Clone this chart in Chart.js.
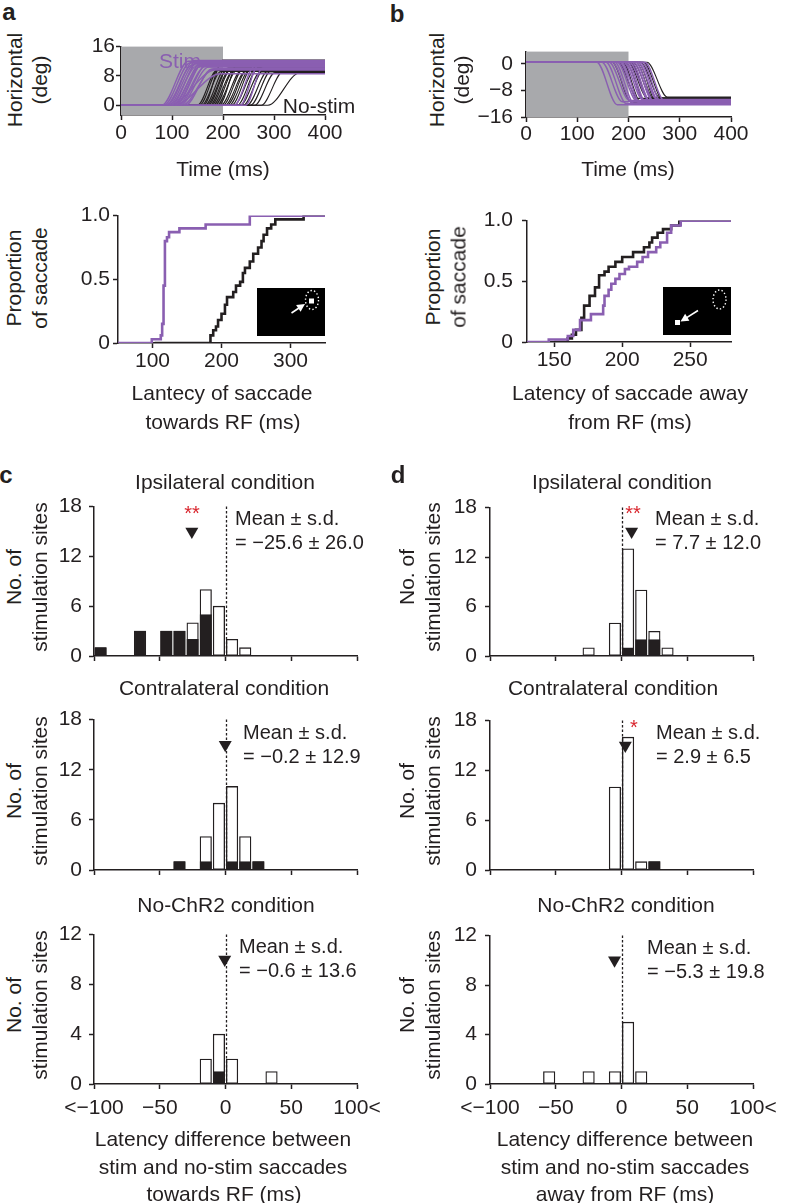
<!DOCTYPE html>
<html>
<head>
<meta charset="utf-8">
<script src="https://cdn.jsdelivr.net/npm/chart.js@4.4.0/dist/chart.umd.min.js"></script>
<style>
  body { margin: 0; background: #fff; }
  #fig { position: relative; width: 788px; height: 1203px; overflow: hidden; background: #fff;
         font-family: "Liberation Sans", Arial, sans-serif; color: #231f20; }
  #fig canvas { position: absolute; }
</style>
</head>
<body>
<div id="fig"></div>
<script>
// ---- panel a / b (top): eye position traces, one entry per saccade ----
// onset (ms), end of saccade (ms), final horizontal position (deg)
const aStimOnset = [80, 84, 88, 90, 93, 95, 98, 100, 102, 105, 107, 110, 113, 116, 96, 104, 120, 126, 222, 234, 244];
const aStimEnd   = [132, 136, 140, 144, 146, 150, 152, 155, 158, 160, 164, 166, 170, 172, 185, 195, 182, 178, 262, 270, 278];
const aStimAmp   = [12, 11.6, 11, 12.2, 11.4, 10.8, 12, 10.5, 11.6, 11.2, 12, 10.6, 11.3, 10.4, 9.6, 8.6, 10, 9.8, 10.6, 11, 10.2];
const aNoStimOnset = [150, 154, 158, 162, 165, 168, 171, 174, 177, 180, 184, 188, 192, 196, 200, 204, 208, 212, 217, 222, 228, 234, 240, 247, 254, 262, 275, 288];
const aNoStimEnd   = [188, 192, 196, 200, 204, 207, 210, 213, 216, 220, 224, 228, 232, 236, 240, 244, 248, 252, 257, 262, 268, 274, 280, 288, 295, 302, 318, 350];
const aNoStimAmp   = [9.5, 10, 9.2, 12.3, 9.8, 9.4, 10.2, 9.6, 9.9, 9.3, 10.1, 9.7, 12.2, 9.5, 10, 9.2, 9.8, 9.6, 10.3, 9.4, 9.9, 9.1, 9.7, 9.3, 9.5, 8.9, 9.2, 8.8];

const bStimOnset = [138, 148, 156, 162, 168, 173, 178, 182, 186, 190, 194, 198, 202, 206, 210, 214, 218, 222, 227, 232];
const bStimEnd   = [178, 188, 196, 202, 208, 212, 216, 220, 224, 228, 232, 236, 240, 244, 248, 252, 256, 260, 265, 270];
const bStimAmp   = [-12.3, -11.4, -12, -11, -11.8, -12.1, -11.2, -11.6, -12, -10.8, -11.5, -12.2, -11, -11.7, -11.3, -12, -10.7, -11.4, -11.8, -11.1];
const bNoStimOnset = [168, 180, 188, 194, 199, 204, 209, 214, 218, 223, 229, 236];
const bNoStimEnd   = [206, 218, 226, 232, 237, 242, 247, 252, 257, 262, 268, 276];
const bNoStimAmp   = [-11.6, -10.4, -12.1, -11, -10.2, -11.8, -10.6, -11.3, -12.2, -10.3, -11, -10];
const bBaseline = 0.5;

const traceTime = [0, 400];
const stimWindow = [0, 200];
const traceTicksX = [0, 100, 200, 300, 400];
const aTraceTicksY = [0, 8, 16];
const bTraceTicksY = [-16, -8, 0];

// ---- panel a / b (bottom): cumulative latency distributions ----
const aCdfStimX   = [50, 99, 112, 114, 116, 118, 121, 124, 139, 177, 241, 350];
const aCdfStimY   = [0, 0.03, 0.06, 0.15, 0.45, 0.8, 0.83, 0.87, 0.9, 0.93, 1, 1];
const aCdfNoStimX = [103, 184, 188, 192, 195, 200, 205, 208, 217, 221, 227, 231, 234, 241, 246, 253, 258, 261, 266, 272, 278, 319, 350];
const aCdfNoStimY = [0, 0.06, 0.1, 0.13, 0.18, 0.23, 0.3, 0.36, 0.4, 0.45, 0.48, 0.55, 0.59, 0.64, 0.7, 0.75, 0.8, 0.85, 0.9, 0.93, 0.97, 1, 1];
const bCdfStimX   = [130, 146, 160, 164, 169, 177, 186, 187, 190, 192, 195, 198, 202, 205, 211, 215, 219, 225, 228, 233, 236, 243, 280];
const bCdfStimY   = [0, 0.02, 0.05, 0.1, 0.18, 0.23, 0.3, 0.38, 0.43, 0.48, 0.52, 0.56, 0.6, 0.62, 0.66, 0.7, 0.74, 0.78, 0.82, 0.9, 0.96, 1, 1];
const bCdfNoStimX = [150, 160, 163, 166, 170, 172, 176, 180, 183, 187, 190, 195, 200, 208, 216, 220, 222, 226, 230, 236, 242, 280];
const bCdfNoStimY = [0, 0.03, 0.06, 0.1, 0.2, 0.3, 0.38, 0.45, 0.55, 0.58, 0.62, 0.66, 0.7, 0.74, 0.78, 0.82, 0.86, 0.9, 0.93, 0.96, 1, 1];
const aCdfTicksX = [100, 200, 300];
const bCdfTicksX = [150, 200, 250];
const cdfTicksY = [0, 0.5, 1];

// ---- panel c / d: histograms of latency difference (10 ms bins) ----
const binCenters = [-95, -85, -75, -65, -55, -45, -35, -25, -15, -5, 5, 15, 25, 35, 45, 55, 65, 75, 85, 95];
const cIpsiTotal    = [1, 0, 0, 3, 0, 3, 3, 4, 8, 6, 2, 1, 0, 0, 0, 0, 0, 0, 0, 0];
const cIpsiFilled   = [1, 0, 0, 3, 0, 3, 3, 2, 5, 0, 0, 0, 0, 0, 0, 0, 0, 0, 0, 0];
const cContraTotal  = [0, 0, 0, 0, 0, 0, 1, 0, 4, 8, 10, 4, 1, 0, 0, 0, 0, 0, 0, 0];
const cContraFilled = [0, 0, 0, 0, 0, 0, 1, 0, 1, 0, 1, 1, 1, 0, 0, 0, 0, 0, 0, 0];
const cNoChR2Total  = [0, 0, 0, 0, 0, 0, 0, 0, 2, 4, 2, 0, 0, 1, 0, 0, 0, 0, 0, 0];
const cNoChR2Filled = [0, 0, 0, 0, 0, 0, 0, 0, 0, 1, 0, 0, 0, 0, 0, 0, 0, 0, 0, 0];
const dIpsiTotal    = [0, 0, 0, 0, 0, 0, 0, 1, 0, 4, 13, 8, 3, 1, 0, 0, 0, 0, 0, 0];
const dIpsiFilled   = [0, 0, 0, 0, 0, 0, 0, 0, 0, 0, 1, 2, 2, 0, 0, 0, 0, 0, 0, 0];
const dContraTotal  = [0, 0, 0, 0, 0, 0, 0, 0, 0, 10, 16, 1, 1, 0, 0, 0, 0, 0, 0, 0];
const dContraFilled = [0, 0, 0, 0, 0, 0, 0, 0, 0, 0, 0, 0, 1, 0, 0, 0, 0, 0, 0, 0];
const dNoChR2Total  = [0, 0, 0, 0, 1, 0, 0, 1, 0, 1, 5, 1, 0, 0, 0, 0, 0, 0, 0, 0];
const dNoChR2Filled = [0, 0, 0, 0, 0, 0, 0, 0, 0, 0, 0, 0, 0, 0, 0, 0, 0, 0, 0, 0];
const histTickVals = [-100, -50, 0, 50, 100];
const histTickLabels = ['<\u2212100', '\u221250', '0', '50', '100<'];
// mean (ms), s.d. (ms), height of the mean marker (sites)
const cMeans = [-25.6, -0.2, -0.6];
const cSDs   = [26.0, 12.9, 13.6];
const dMeans = [7.7, 2.9, -5.3];
const dSDs   = [12.0, 6.5, 19.8];
const cMarkY = [15, 15, 10];
const dMarkY = [15.1, 15, 10];

// ---- styling ----
const INK = '#231f20';
const PURPLE = '#8a5fb1';
const SHADE = '#a8a9ac';
const RED = '#d9262e';

Chart.defaults.font.family = '"Liberation Sans", Arial, sans-serif';
Chart.defaults.font.size = 21;
Chart.defaults.color = INK;

const fig = document.getElementById('fig');
const PAD = {l: 64, r: 40, t: 12, b: 44};

function mount(plot) {
  const c = document.createElement('canvas');
  c.width = plot.w + PAD.l + PAD.r;
  c.height = plot.h + PAD.t + PAD.b;
  c.style.left = (plot.x - PAD.l) + 'px';
  c.style.top = (plot.y - PAD.t) + 'px';
  c.style.width = c.width + 'px';
  c.style.height = c.height + 'px';
  fig.appendChild(c);
  return c;
}

function scale(min, max, vals, fmt, pad, showLabels) {
  return {
    type: 'linear', min: min, max: max, offset: false, z: 1,
    afterBuildTicks: s => { s.ticks = vals.map(v => ({value: v})); },
    afterFit: s => { if (s.isHorizontal()) s.height = PAD.b; else s.width = PAD.l; },
    ticks: {display: showLabels !== false, padding: pad, autoSkip: false, maxRotation: 0, callback: v => fmt(v)},
    grid: {drawOnChartArea: false, drawTicks: true, tickLength: 5, tickColor: INK, tickWidth: 1.5, offset: false},
    border: {display: true, color: INK, width: 1.5}
  };
}

function draw(plot, type, datasets, xs, ys, plugins) {
  return new Chart(mount(plot), {
    type: type,
    data: {datasets: datasets},
    options: {
      responsive: false, animation: false, devicePixelRatio: 1,
      layout: {autoPadding: false, padding: {left: 0, right: PAD.r, top: PAD.t, bottom: 0}},
      plugins: {legend: {display: false}, tooltip: {enabled: false}},
      scales: {x: xs, y: ys}
    },
    plugins: plugins || []
  });
}

const num = v => String(v).replace('-', '\u2212');
const frac = v => v === 0 ? '0' : v.toFixed(1);
const histLabel = v => histTickLabels[histTickVals.indexOf(v)];

function label(str, x, y, o) {
  o = o || {};
  const d = document.createElement('div');
  d.textContent = str;
  const tf = (o.left ? 'translate(0,-50%)' : 'translate(-50%,-50%)') + (o.rot ? ' rotate(-90deg)' : '');
  d.style.cssText = 'position:absolute;white-space:nowrap;line-height:1;left:' + x + 'px;top:' + y +
    'px;font-size:' + (o.size || 21) + 'px;font-weight:' + (o.bold ? 700 : 400) +
    ';color:' + (o.color || INK) + ';transform:' + tf + ';';
  fig.appendChild(d);
}

// ---- top row: traces ----
function traceSets(onset, end, amp, base, color, width) {
  return onset.map((t0, i) => ({
    type: 'line',
    data: [{x: traceTime[0], y: base}, {x: t0, y: base}, {x: end[i], y: amp[i]}, {x: traceTime[1], y: amp[i]}],
    borderColor: color, borderWidth: width, pointRadius: 0, fill: false,
    cubicInterpolationMode: 'monotone'
  }));
}

const shadePlugin = {
  id: 'shade',
  beforeDatasetsDraw(chart) {
    const {ctx, chartArea: a, scales: {x}} = chart;
    const x0 = x.getPixelForValue(stimWindow[0]), x1 = x.getPixelForValue(stimWindow[1]);
    ctx.save();
    ctx.fillStyle = SHADE;
    ctx.fillRect(x0, a.top, x1 - x0, a.bottom - a.top);
    ctx.restore();
  }
};

draw({x: 121, y: 45, w: 204, h: 70}, 'line',
  traceSets(aStimOnset, aStimEnd, aStimAmp, 0, PURPLE, 1.4)
    .concat(traceSets(aNoStimOnset, aNoStimEnd, aNoStimAmp, 0, INK, 1.1)),
  scale(0, 400, traceTicksX, num, 1),
  scale(-2.67, 16, aTraceTicksY, num, 1),
  [shadePlugin]);

draw({x: 526, y: 43, w: 205, h: 74}, 'line',
  traceSets(bStimOnset, bStimEnd, bStimAmp, bBaseline, PURPLE, 1.4)
    .concat(traceSets(bNoStimOnset, bNoStimEnd, bNoStimAmp, bBaseline, INK, 1.1)),
  scale(0, 400, traceTicksX, num, 0),
  scale(-16, 3.7, bTraceTicksY, num, 8),
  [shadePlugin]);

// ---- middle row: cumulative distributions ----
function cdfSet(xs, ys, color) {
  return {
    data: xs.map((x, i) => ({x: x, y: ys[i]})),
    borderColor: color, borderWidth: 2.6, pointRadius: 0, fill: false, stepped: true
  };
}

function arrow(ctx, x0, y0, x1, y1) {
  const ang = Math.atan2(y1 - y0, x1 - x0);
  ctx.beginPath();
  ctx.moveTo(x0, y0);
  ctx.lineTo(x1 - 5 * Math.cos(ang), y1 - 5 * Math.sin(ang));
  ctx.stroke();
  ctx.beginPath();
  ctx.moveTo(x1, y1);
  ctx.lineTo(x1 - 8 * Math.cos(ang) + 4 * Math.sin(ang), y1 - 8 * Math.sin(ang) - 4 * Math.cos(ang));
  ctx.lineTo(x1 - 8 * Math.cos(ang) - 4 * Math.sin(ang), y1 - 8 * Math.sin(ang) + 4 * Math.cos(ang));
  ctx.closePath();
  ctx.fill();
}

function insetPlugin(scene) {
  return {
    id: 'inset',
    afterDatasetsDraw(chart) {
      const {ctx, chartArea: a} = chart;
      const w = 68, h = 48;
      ctx.save();
      ctx.translate(a.right - w, a.bottom - 7 - h);
      ctx.fillStyle = '#000';
      ctx.fillRect(0, 0, w, h);
      ctx.strokeStyle = '#fff';
      ctx.fillStyle = '#fff';
      ctx.lineWidth = 1.4;
      ctx.setLineDash([1.4, 2.2]);
      ctx.beginPath();
      ctx.ellipse(scene.rf[0], scene.rf[1], 6.5, 9.5, 0, 0, Math.PI * 2);
      ctx.stroke();
      ctx.setLineDash([]);
      ctx.fillRect(scene.sq[0] - 2.5, scene.sq[1] - 2.5, 5, 5);
      ctx.lineWidth = 1.6;
      arrow(ctx, scene.arrow[0], scene.arrow[1], scene.arrow[2], scene.arrow[3]);
      ctx.restore();
    }
  };
}

draw({x: 118, y: 212, w: 207, h: 131}, 'line',
  [cdfSet(aCdfStimX, aCdfStimY, PURPLE), cdfSet(aCdfNoStimX, aCdfNoStimY, INK)],
  scale(50, 350, aCdfTicksX, num, 1),
  scale(0, 1, cdfTicksY, frac, 3),
  [insetPlugin({rf: [55, 12], sq: [54.5, 13], arrow: [34.5, 25, 48, 16]})]);

draw({x: 527, y: 211, w: 204, h: 131}, 'line',
  [cdfSet(bCdfStimX, bCdfStimY, PURPLE), cdfSet(bCdfNoStimX, bCdfNoStimY, INK)],
  scale(130, 280, bCdfTicksX, num, 1),
  scale(0, 1, cdfTicksY, frac, 9),
  [insetPlugin({rf: [56.5, 12.5], sq: [14.5, 35.5], arrow: [35, 23.5, 17.5, 34.5]})]);

// ---- bottom: histograms ----
const zeroLine = {
  id: 'zeroLine',
  afterDatasetsDraw(chart) {
    const {ctx, chartArea: a, scales: {x}} = chart;
    const px = Math.round(x.getPixelForValue(0)) + 0.5;
    ctx.save();
    ctx.strokeStyle = INK;
    ctx.lineWidth = 1.3;
    ctx.setLineDash([2.5, 2]);
    ctx.beginPath();
    ctx.moveTo(px, a.top);
    ctx.lineTo(px, a.bottom);
    ctx.stroke();
    ctx.restore();
  }
};

function barData(counts) {
  const out = [];
  binCenters.forEach((c, i) => { if (counts[i] > 0) out.push({x: c, y: counts[i]}); });
  return out;
}

function histSets(total, filled, mean, markY) {
  return [
    {type: 'scatter', data: [{x: mean, y: markY}], pointStyle: 'triangle', rotation: 180,
     radius: 7.5, backgroundColor: INK, borderColor: INK, borderWidth: 0},
    {data: barData(filled), backgroundColor: INK, borderColor: INK, borderWidth: 1.2,
     barThickness: 11.5, grouped: false, borderSkipped: false},
    {data: barData(total), backgroundColor: '#fff', borderColor: INK, borderWidth: 1.3,
     barThickness: 11.5, grouped: false, borderSkipped: false}
  ];
}

function hist(plot, total, filled, mean, markY, yMax, yTicks, bottom, yPad) {
  draw(plot, 'bar', histSets(total, filled, mean, markY),
    scale(-100, 100, histTickVals, histLabel, 6.5, bottom),
    scale(0, yMax, yTicks, num, yPad),
    [zeroLine]);
}

const t18 = [0, 6, 12, 18], t12 = [0, 4, 8, 12];
hist({x: 94, y: 499, w: 263, h: 157}, cIpsiTotal, cIpsiFilled, cMeans[0], cMarkY[0], 18, t18, false, 7);
hist({x: 94, y: 712, w: 263, h: 158.5}, cContraTotal, cContraFilled, cMeans[1], cMarkY[1], 18, t18, false, 7);
hist({x: 94, y: 927, w: 263, h: 157}, cNoChR2Total, cNoChR2Filled, cMeans[2], cMarkY[2], 12, t12, true, 7);
hist({x: 490, y: 499, w: 263, h: 157}, dIpsiTotal, dIpsiFilled, dMeans[0], dMarkY[0], 18, t18, false, 8);
hist({x: 490, y: 712, w: 263, h: 158.5}, dContraTotal, dContraFilled, dMeans[1], dMarkY[1], 18, t18, false, 8);
hist({x: 490, y: 927, w: 263, h: 157}, dNoChR2Total, dNoChR2Filled, dMeans[2], dMarkY[2], 12, t12, true, 8);

// ---- text ----
label('a', 9, 12, {bold: true, size: 24});
label('b', 397, 14, {bold: true, size: 24});
label('c', 6, 475, {bold: true, size: 24});
label('d', 398, 475, {bold: true, size: 24});

label('Horizontal', 14, 80, {rot: true});
label('(deg)', 39, 80, {rot: true});
label('Horizontal', 436, 80, {rot: true});
label('(deg)', 461, 80, {rot: true});
label('Time (ms)', 223, 168);
label('Time (ms)', 628, 168);
label('Stim', 180, 60, {color: PURPLE});
label('No-stim', 319, 105);

label('Proportion', 13, 278, {rot: true});
label('of saccade', 39, 278, {rot: true});
label('Proportion', 432, 277, {rot: true});
label('of saccade', 458, 277, {rot: true});
label('Lantecy of saccade', 222, 392);
label('towards RF (ms)', 223, 421);
label('Latency of saccade away', 630, 392);
label('from RF (ms)', 630, 421);

const conds = ['Ipsilateral condition', 'Contralateral condition', 'No-ChR2 condition'];
const rowY = [481, 687, 904];
const rowMid = [577, 791, 1005];
const cTitleX = [225, 224, 226], dTitleX = [622, 613, 626];
const cMeanPos = [[235, 518], [243, 732], [239, 946]];
const dMeanPos = [[655, 518], [656, 732], [647, 947]];
const fmtStat = v => v.toFixed(1).replace('-', '\u2212');

for (let i = 0; i < 3; i++) {
  label(conds[i], cTitleX[i], rowY[i]);
  label(conds[i], dTitleX[i], rowY[i]);
  label('No. of', 13, rowMid[i], {rot: true});
  label('stimulation sites', 39, rowMid[i], {rot: true});
  label('No. of', 406, rowMid[i], {rot: true});
  label('stimulation sites', 432, rowMid[i], {rot: true});
  label('Mean \u00b1 s.d.', cMeanPos[i][0], cMeanPos[i][1], {left: true, size: 20});
  label('= ' + fmtStat(cMeans[i]) + ' \u00b1 ' + fmtStat(cSDs[i]), cMeanPos[i][0], cMeanPos[i][1] + 24, {left: true, size: 20});
  label('Mean \u00b1 s.d.', dMeanPos[i][0], dMeanPos[i][1], {left: true, size: 20});
  label('= ' + fmtStat(dMeans[i]) + ' \u00b1 ' + fmtStat(dSDs[i]), dMeanPos[i][0], dMeanPos[i][1] + 24, {left: true, size: 20});
}

label('**', 192, 513, {color: RED, size: 20});
label('**', 633, 513, {color: RED, size: 20});
label('*', 634, 727, {color: RED, size: 20});

label('Latency difference between', 223, 1138);
label('stim and no-stim saccades', 223, 1166);
label('towards RF (ms)', 224, 1193);
label('Latency difference between', 625, 1138);
label('stim and no-stim saccades', 625, 1166);
label('away from RF (ms)', 625, 1193);
</script>
</body>
</html>
